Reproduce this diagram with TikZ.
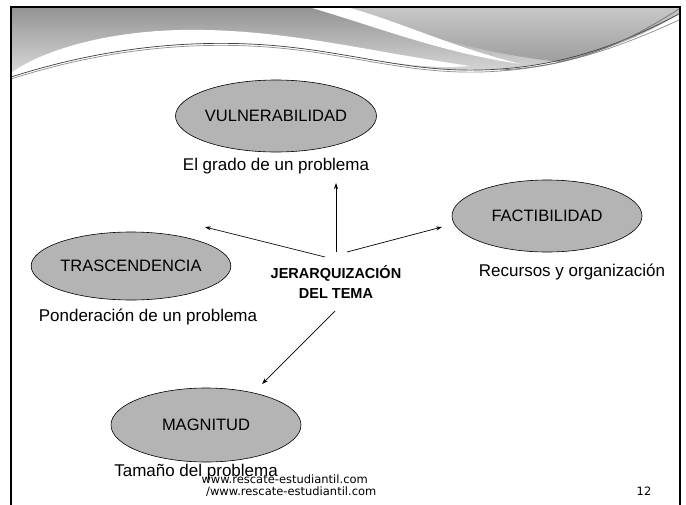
\documentclass[tikz,border=0pt]{standalone}
\usepackage{fontspec}
\setmainfont{Liberation Sans}
\newfontfamily\footfont{DejaVu Sans}
\usetikzlibrary{shapes.geometric,arrows.meta}
\definecolor{ellgray}{RGB}{180,180,180}
\begin{document}
\begin{tikzpicture}[x=1pt,y=-1pt,
  ell/.style={ellipse, draw=black, line width=0.6pt, fill=ellgray, minimum width=190pt, minimum height=72pt, inner sep=0pt, font=\fontsize{16.5}{19}\selectfont},
  lab/.style={font=\fontsize{17}{20}\selectfont, inner sep=0pt},
  arr/.style={-{Stealth[length=6pt,width=4pt]}, line width=0.7pt},
  foot/.style={font=\footfont\fontsize{11.5}{13}\selectfont, inner sep=0pt},
  wave/.style={line width=0.7pt, draw=black!75}]
\useasboundingbox (0,0) rectangle (686,504);
\fill[white] (0,0) rectangle (686,504);
% header
\shade[top color=black!42, bottom color=black!14]
  (11,8) -- (679,8) -- (679,14)
  .. controls (620,45) and (560,68) .. (480,70)
  .. controls (400,72) and (340,48) .. (250,44)
  .. controls (160,40) and (80,55) .. (11,77) -- cycle;
\fill[white] (11,73) .. controls (40,52) and (100,32) .. (180,30)
  .. controls (280,28) and (360,50) .. (470,66)
  .. controls (400,72) and (340,48) .. (250,44)
  .. controls (160,40) and (80,55) .. (11,77) -- cycle;
\shade[top color=black!22, bottom color=black!38]
  (345,8) .. controls (410,30) and (470,52) .. (560,62)
  .. controls (610,50) and (650,32) .. (679,14) -- (679,8) -- cycle;
\fill[white] (312,8) .. controls (380,28) and (440,52) .. (520,64)
  .. controls (450,46) and (400,22) .. (350,8) -- cycle;
\draw[wave] (11,77) .. controls (80,55) and (160,40) .. (250,44)
  .. controls (340,48) and (400,72) .. (480,70)
  .. controls (560,68) and (620,45) .. (679,14);
\draw[wave, draw=black!45] (11,79) .. controls (80,57) and (160,42) .. (250,46)
  .. controls (340,50) and (400,74) .. (480,72)
  .. controls (560,70) and (622,46) .. (679,20);
\draw[wave, draw=black!55] (500,70) .. controls (580,66) and (630,40) .. (679,9);
% frame
\draw[line width=2.5pt] (11,530) -- (11,7) -- (680,7) -- (680,530);
% nodes
\node[ell] (V) at (276,116) {VULNERABILIDAD};
\node[ell] (F) at (547,216) {FACTIBILIDAD};
\node[ell, minimum height=68pt] (T) at (131,266) {TRASCENDENCIA};
\node[ell, minimum height=74pt] (M) at (206,425) {MAGNITUD};
\node[lab] (Vl) at (276,166) {El grado de un problema};
\node[lab] (Fl) at (572,272) {Recursos y organización};
\node[lab] (Tl) at (148,317) {Ponderación de un problema};
\node[lab, anchor=east] (Ml) at (278,472) {Tamaño del problema};
\node[lab, font=\bfseries\fontsize{14.5}{20}\selectfont, align=center] (J) at (336,282) {JERARQUIZACIÓN\\DEL TEMA};
% arrows
\coordinate (sU) at (336,252); \coordinate (eU) at (336,183);
\coordinate (sR) at (347,252); \coordinate (eR) at (442,227);
\coordinate (sL) at (325,257); \coordinate (eL) at (205,227);
\coordinate (sD) at (335,311); \coordinate (eD) at (262,384);
\draw[arr] (sU) -- (eU);
\draw[arr] (sR) -- (eR);
\draw[arr] (sL) -- (eL);
\draw[arr] (sD) -- (eD);
% footer
\node[foot, anchor=east] (f1) at (368,479) {www.rescate-estudiantil.com};
\node[foot, anchor=west] (f2) at (206,492) {/www.rescate-estudiantil.com};
\node[foot] (pg) at (644,491) {12};
\end{tikzpicture}
\end{document}
